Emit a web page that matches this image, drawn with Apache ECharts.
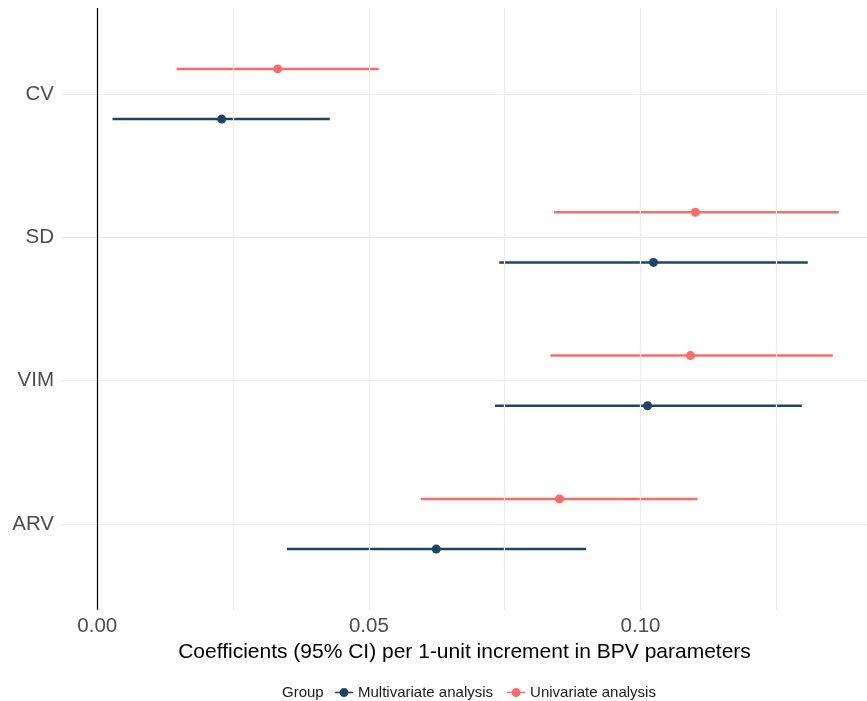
<!DOCTYPE html>
<html>
<head>
<meta charset="utf-8">
<script src="https://cdn.jsdelivr.net/npm/echarts@6/dist/echarts.min.js"></script>
<style>
  html, body { margin: 0; padding: 0; background: #fff; }
  #chart { width: 867px; height: 701px; }
</style>
</head>
<body>
<div id="chart"></div>
<script>
// parameters, top to bottom
const categories = ['CV', 'SD', 'VIM', 'ARV'];

// univariate: estimate, lower, upper
const uniEst = [0.0332, 0.1101, 0.1092, 0.0851];
const uniLow = [0.0146, 0.0841, 0.0834, 0.0596];
const uniHigh = [0.0518, 0.1365, 0.1354, 0.1105];

// multivariate
const multiEst = [0.0229, 0.1024, 0.1013, 0.0624];
const multiLow = [0.0028, 0.0740, 0.0732, 0.0349];
const multiHigh = [0.0428, 0.1308, 0.1297, 0.0900];

const xTickLabels = [0, 0.05, 0.1];
const xGridValues = [0.025, 0.05, 0.075, 0.1, 0.125];

const colMulti = '#1c4563';
const colUni = '#fb6b6b';
const dodge = 0.175;
const font = 'Liberation Sans, Arial, sans-serif';

function rows(est, low, high, shift) {
  return categories.map((c, i) => ({ est: est[i], low: low[i], high: high[i], y: i + 1 + shift }));
}
const uniRows = rows(uniEst, uniLow, uniHigh, -dodge);
const multiRows = rows(multiEst, multiLow, multiHigh, dodge);

function barRender(params, api) {
  const p1 = api.coord([api.value(0), api.value(2)]);
  const p2 = api.coord([api.value(1), api.value(2)]);
  return {
    type: 'line',
    shape: { x1: p1[0], y1: p1[1], x2: p2[0], y2: p2[1] },
    style: { stroke: api.visual('color'), lineWidth: 2.5 }
  };
}

const legendIcon = 'path://M0,4.2 L18,4.2 L18,5.8 L0,5.8 Z M9,0.5 A4.5,4.5 0 1 1 8.99,0.5 Z';

const chart = echarts.init(document.getElementById('chart'));
chart.setOption({
  animation: false,
  textStyle: { fontFamily: font },
  grid: { left: 62, right: 0, top: 8, bottom: 91, containLabel: false },
  xAxis: {
    type: 'value',
    min: -0.0065,
    max: 0.1417,
    name: 'Coefficients (95% CI) per 1-unit increment in BPV parameters',
    nameLocation: 'middle',
    nameGap: 29,
    nameTextStyle: { fontSize: 21, color: '#000' },
    axisLine: { show: false },
    axisTick: { show: false },
    splitLine: { show: false },
    axisLabel: {
      customValues: xTickLabels,
      fontSize: 20.5,
      color: '#4d4d4d',
      margin: 6,
      formatter: v => v.toFixed(2)
    }
  },
  yAxis: {
    type: 'value',
    min: 0.4,
    max: 4.6,
    inverse: true,
    axisLine: { show: false },
    axisTick: { show: false },
    splitLine: { show: false },
    axisLabel: {
      customValues: [1, 2, 3, 4],
      fontSize: 20.5,
      color: '#4d4d4d',
      margin: 8,
      formatter: v => categories[Math.round(v) - 1] || ''
    }
  },
  legend: {
    left: 330,
    top: 680,
    itemWidth: 18,
    itemHeight: 10,
    itemGap: 14,
    textStyle: { fontSize: 15, color: '#1a1a1a' },
    data: [
      { name: 'Multivariate analysis', icon: legendIcon, itemStyle: { color: colMulti } },
      { name: 'Univariate analysis', icon: legendIcon, itemStyle: { color: colUni } }
    ]
  },
  graphic: [{
    type: 'text',
    x: 282,
    y: 693,
    style: { text: 'Group', fontSize: 15, fill: '#1a1a1a', fontFamily: font, verticalAlign: 'middle' }
  }],
  series: [
    {
      name: 'grid',
      type: 'line',
      data: [],
      silent: true,
      z: 0,
      markLine: {
        silent: true,
        symbol: 'none',
        precision: 5,
        label: { show: false },
        animation: false,
        lineStyle: { color: '#ebebeb', width: 1.2, type: 'solid' },
        data: xGridValues.map(v => ({ xAxis: v }))
          .concat(categories.map((c, i) => ({ yAxis: i + 1 })))
          .concat([{ xAxis: 0, lineStyle: { color: '#000', width: 1.2 } }])
      }
    },
    {
      name: 'Multivariate analysis',
      type: 'custom',
      renderItem: barRender,
      itemStyle: { color: colMulti },
      encode: { x: [0, 1], y: 2 },
      data: multiRows.map(r => [r.low, r.high, r.y]),
      z: 2
    },
    {
      name: 'Multivariate analysis',
      type: 'scatter',
      symbolSize: 9,
      itemStyle: { color: colMulti, opacity: 1 },
      data: multiRows.map(r => [r.est, r.y]),
      z: 3
    },
    {
      name: 'Univariate analysis',
      type: 'custom',
      renderItem: barRender,
      itemStyle: { color: colUni },
      encode: { x: [0, 1], y: 2 },
      data: uniRows.map(r => [r.low, r.high, r.y]),
      z: 2
    },
    {
      name: 'Univariate analysis',
      type: 'scatter',
      symbolSize: 9,
      itemStyle: { color: colUni, opacity: 1 },
      data: uniRows.map(r => [r.est, r.y]),
      z: 3
    }
  ]
});
</script>
</body>
</html>
